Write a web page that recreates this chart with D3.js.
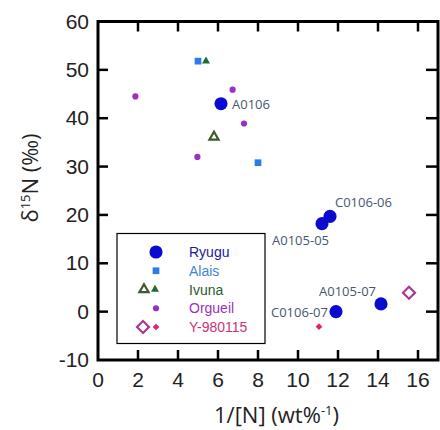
<!DOCTYPE html>
<html>
<head>
<meta charset="utf-8">
<script src="https://cdn.jsdelivr.net/npm/d3@7"></script>
<style>
  body { margin: 0; background: #fff; }
  svg { display: block; }
</style>
</head>
<body>
<div id="chart"></div>
<script>
// data
var xTicks = [0, 2, 4, 6, 8, 10, 12, 14, 16];
var yTicks = [-10, 0, 10, 20, 30, 40, 50, 60];

var ryugu = [
  { x: 6.15, y: 43.0, label: 'A0106' },
  { x: 11.2, y: 18.2, label: 'A0105-05' },
  { x: 11.6, y: 19.7, label: 'C0106-06' },
  { x: 11.9, y: 0.0, label: 'C0106-07' },
  { x: 14.15, y: 1.6, label: 'A0105-07' }
];
var alais = [ { x: 5.0, y: 51.8 }, { x: 8.0, y: 30.8 } ];
var ivunaOpen = [ { x: 5.8, y: 36.1 } ];
var ivunaFilled = [ { x: 5.4, y: 51.8 } ];
var orgueil = [ { x: 1.87, y: 44.5 }, { x: 4.97, y: 32.0 }, { x: 6.73, y: 45.9 }, { x: 7.3, y: 38.9 } ];
var yOpen = [ { x: 15.55, y: 3.9 } ];
var yFilled = [ { x: 11.05, y: -3.1 } ];

var legendNames = ['Ryugu', 'Alais', 'Ivuna', 'Orgueil', 'Y-980115'];

var W = 440, H = 430;
var pL = 98, pR = 438, pT = 21.5, pB = 360;

var svg = d3.select('#chart').append('svg')
  .attr('width', W).attr('height', H);

var x = d3.scaleLinear().domain([0, 17]).range([pL, pR]);
var y = d3.scaleLinear().domain([-10, 60]).range([pB, pT]);

var tickFont = '"Liberation Sans", Arial, sans-serif';
var titleFont = '"Open Sans", "Noto Sans", sans-serif';

// ticks (inside on all four sides)
var tk = svg.append('g').attr('stroke', '#000').attr('stroke-width', 2.5);
xTicks.slice(1).forEach(function(v) {
  tk.append('line').attr('x1', x(v)).attr('x2', x(v)).attr('y1', pB).attr('y2', pB - 10);
  tk.append('line').attr('x1', x(v)).attr('x2', x(v)).attr('y1', pT).attr('y2', pT + 10);
});
yTicks.slice(1, -1).forEach(function(v) {
  tk.append('line').attr('x1', pL).attr('x2', pL + 10).attr('y1', y(v)).attr('y2', y(v));
  tk.append('line').attr('x1', pR).attr('x2', pR - 12).attr('y1', y(v)).attr('y2', y(v));
});

// frame
svg.append('rect')
  .attr('x', pL).attr('y', pT)
  .attr('width', pR - pL).attr('height', pB - pT)
  .attr('fill', 'none').attr('stroke', '#000').attr('stroke-width', 3);

// tick labels
svg.append('g').selectAll('text').data(xTicks).join('text')
  .attr('x', d => x(d)).attr('y', 387)
  .attr('text-anchor', 'middle')
  .style('font-family', tickFont).style('font-size', '21px').attr('fill', '#222')
  .text(d => d);
svg.append('g').selectAll('text').data(yTicks).join('text')
  .attr('x', 89).attr('y', d => y(d) + 7)
  .attr('text-anchor', 'end')
  .style('font-family', tickFont).style('font-size', '21px').attr('fill', '#222')
  .text(d => d);

// axis titles
var xt = svg.append('text').attr('x', 214).attr('y', 423)
  .style('font-family', titleFont).style('font-size', '22px').attr('fill', '#222');
xt.append('tspan').text('1/[N] (wt%');
xt.append('tspan').attr('dy', -8).style('font-size', '13px').text('-1');
xt.append('tspan').attr('dy', 8).text(')');

var yt = svg.append('text')
  .attr('transform', 'translate(38,178) rotate(-90)')
  .attr('text-anchor', 'middle')
  .style('font-family', titleFont).style('font-size', '22px').attr('fill', '#222');
yt.append('tspan').text('δ');
yt.append('tspan').attr('dy', -8).style('font-size', '13px').text('15');
yt.append('tspan').attr('dy', 8).text('N (‰)');

// marker helpers
var sym = function(type, size) { return d3.symbol().type(type).size(size)(); };
var styles = {
  ryugu: { path: sym(d3.symbolCircle, 135), fill: '#0a0ad0', stroke: 'none' },
  alais: { path: sym(d3.symbolSquare, 45), fill: '#2b7de6', stroke: 'none' },
  ivOpen: { path: sym(d3.symbolTriangle, 36), fill: 'none', stroke: '#3e5a2e', sw: 2.2 },
  ivFill: { path: sym(d3.symbolTriangle, 28), fill: '#1f6b35', stroke: 'none' },
  org: { path: sym(d3.symbolCircle, 30), fill: '#9b30c0', stroke: 'none' },
  yOpen: { path: sym(d3.symbolSquare, 72), fill: 'none', stroke: '#a83a92', sw: 2.2, rot: 45 },
  yFill: { path: sym(d3.symbolSquare, 22), fill: '#e0206d', stroke: 'none', rot: 45 }
};

function drawPoints(data, st) {
  svg.append('g').selectAll('path').data(data).join('path')
    .attr('d', st.path)
    .attr('transform', d => 'translate(' + x(d.x) + ',' + y(d.y) + ') rotate(' + (st.rot || 0) + ')')
    .attr('fill', st.fill)
    .attr('stroke', st.stroke)
    .attr('stroke-width', st.sw || 0);
}

drawPoints(orgueil, styles.org);
drawPoints(alais, styles.alais);
drawPoints(ivunaFilled, styles.ivFill);
drawPoints(ivunaOpen, styles.ivOpen);
drawPoints(yOpen, styles.yOpen);
drawPoints(yFilled, styles.yFill);
drawPoints(ryugu, styles.ryugu);

// Ryugu sample labels
var labelOffsets = {
  'A0106': [11, 5],
  'A0105-05': [-50, 21],
  'C0106-06': [5, -9],
  'C0106-07': [-65, 5],
  'A0105-07': [-62, -8]
};
svg.append('g').selectAll('text').data(ryugu).join('text')
  .attr('x', d => x(d.x) + labelOffsets[d.label][0])
  .attr('y', d => y(d.y) + labelOffsets[d.label][1])
  .style('font-family', titleFont).style('font-size', '13px')
  .attr('fill', '#46566e')
  .text(d => d.label);

// legend
var lg = svg.append('g');
lg.append('rect').attr('x', 117).attr('y', 233.5).attr('width', 148).attr('height', 110)
  .attr('fill', '#fff').attr('stroke', '#000').attr('stroke-width', 1.2);
var rowY = d3.scalePoint().domain(legendNames).range([252, 327]);
var legendColors = ['#1a1a9a', '#3f86d8', '#2e5a2e', '#9933b8', '#cc3377'];
var legendMarks = [
  [[156, styles.ryugu]],
  [[156, styles.alais]],
  [[144, styles.ivOpen], [155, styles.ivFill]],
  [[156, styles.org]],
  [[143, styles.yOpen], [156, styles.yFill]]
];
legendNames.forEach(function(name, i) {
  legendMarks[i].forEach(function(m) {
    lg.append('path').attr('d', m[1].path)
      .attr('transform', 'translate(' + m[0] + ',' + rowY(name) + ') rotate(' + (m[1].rot || 0) + ')')
      .attr('fill', m[1].fill).attr('stroke', m[1].stroke).attr('stroke-width', m[1].sw || 0);
  });
  lg.append('text').attr('x', 189).attr('y', rowY(name) + 5)
    .style('font-family', tickFont).style('font-size', '14px')
    .attr('fill', legendColors[i]).text(name);
});
</script>
</body>
</html>
